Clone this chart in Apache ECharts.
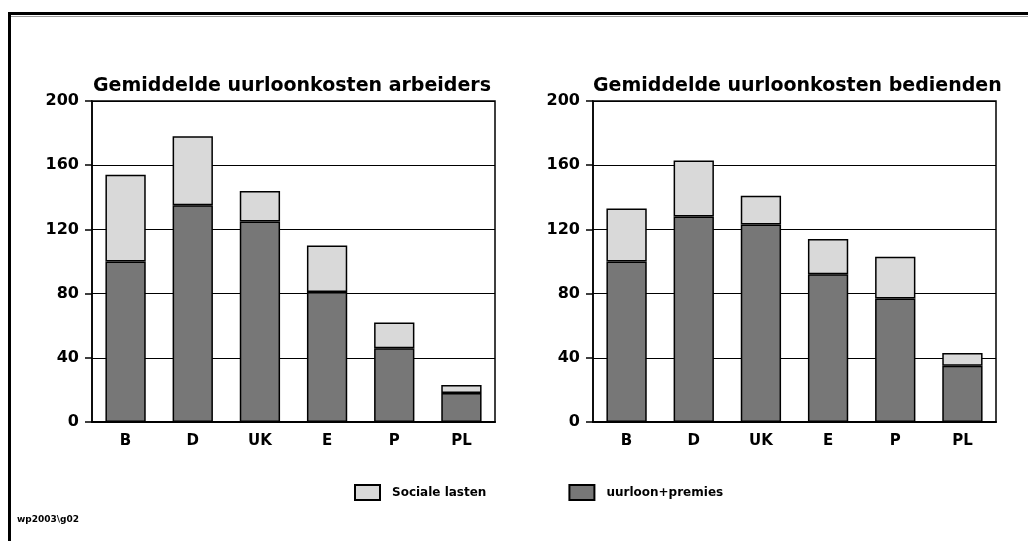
<!DOCTYPE html>
<html>
<head>
<meta charset="utf-8">
<script src="https://cdn.jsdelivr.net/npm/echarts@6/dist/echarts.min.js"></script>
<style>
    html, body { margin: 0; padding: 0; background: #fff; }
    #chart { width: 1028px; height: 541px; }
</style>
</head>
<body>
<div id="chart"></div>
<script>
// landen en waarden (index 100)
const categories = ['B', 'D', 'UK', 'E', 'P', 'PL'];
const arbeidersLoon = [100, 135, 125, 81, 46, 18];
const arbeidersTotaal = [154, 178, 144, 110, 62, 23];
const bediendenLoon = [100, 128, 123, 92, 77, 35];
const bediendenTotaal = [133, 163, 141, 114, 103, 43];
const yTicks = [0, 40, 80, 120, 160, 200];

const FONT = 'DejaVu Sans';
const LIGHT = '#d9d9d9';
const DARK = '#777777';

const diff = (tot, base) => tot.map((v, i) => v - base[i]);

const makeX = gridIndex => ({
    type: 'category',
    gridIndex,
    data: categories,
    axisLine: { lineStyle: { color: '#000', width: 2 } },
    axisTick: { show: false },
    axisLabel: { color: '#000', fontFamily: FONT, fontWeight: 'bold', fontSize: 15, margin: 12 }
});

const makeY = gridIndex => ({
    type: 'value',
    gridIndex,
    min: yTicks[0],
    max: yTicks[yTicks.length - 1],
    interval: yTicks[1] - yTicks[0],
    axisLine: { show: true, lineStyle: { color: '#000', width: 1.5 } },
    axisTick: { show: true, length: 7, lineStyle: { color: '#000', width: 1.5 } },
    splitLine: { lineStyle: { color: '#000', width: 1.2 } },
    axisLabel: { color: '#000', fontFamily: FONT, fontWeight: 'bold', fontSize: 16, margin: 13 }
});

const makeBar = (name, idx, data, color) => ({
    name,
    type: 'bar',
    xAxisIndex: idx,
    yAxisIndex: idx,
    stack: 'g' + idx,
    data,
    barCategoryGap: '40%',
    itemStyle: { color, borderColor: '#000', borderWidth: 1.5 },
    emphasis: { disabled: true }
});

const titleStyle = { color: '#000', fontFamily: FONT, fontWeight: 'bold', fontSize: 19 };

const option = {
    animation: false,
    backgroundColor: '#fff',
    title: [
        { text: 'Gemiddelde uurloonkosten arbeiders', left: 93, top: 77, padding: 0, textStyle: titleStyle },
        { text: 'Gemiddelde uurloonkosten bedienden', left: 593, top: 77, padding: 0, textStyle: titleStyle }
    ],
    grid: [
        { left: 92, right: 533, top: 101, bottom: 119, show: true, borderColor: '#000', borderWidth: 1.5 },
        { left: 593, right: 32, top: 101, bottom: 119, show: true, borderColor: '#000', borderWidth: 1.5 }
    ],
    legend: {
        data: ['Sociale lasten', 'uurloon+premies'],
        left: 349,
        top: 479,
        itemWidth: 25,
        itemHeight: 15,
        itemGap: 82,
        icon: 'rect',
        textStyle: { color: '#000', fontFamily: FONT, fontWeight: 'bold', fontSize: 12, padding: [0, 0, 0, 7] }
    },
    xAxis: [makeX(0), makeX(1)],
    yAxis: [makeY(0), makeY(1)],
    series: [
        makeBar('uurloon+premies', 0, arbeidersLoon, DARK),
        makeBar('Sociale lasten', 0, diff(arbeidersTotaal, arbeidersLoon), LIGHT),
        makeBar('uurloon+premies', 1, bediendenLoon, DARK),
        makeBar('Sociale lasten', 1, diff(bediendenTotaal, bediendenLoon), LIGHT)
    ],
    graphic: [
        { type: 'rect', shape: { x: 8, y: 12, width: 1020, height: 3 }, style: { fill: '#000' } },
        { type: 'rect', shape: { x: 11, y: 16, width: 1017, height: 1 }, style: { fill: '#999' } },
        { type: 'rect', shape: { x: 8, y: 12, width: 3, height: 529 }, style: { fill: '#000' } },
        {
            type: 'text', left: 17, top: 515,
            style: { text: 'wp2003\\g02', fill: '#000', font: 'bold 9px "DejaVu Sans"' }
        }
    ]
};

const chart = echarts.init(document.getElementById('chart'));
chart.setOption(option);
</script>
</body>
</html>
